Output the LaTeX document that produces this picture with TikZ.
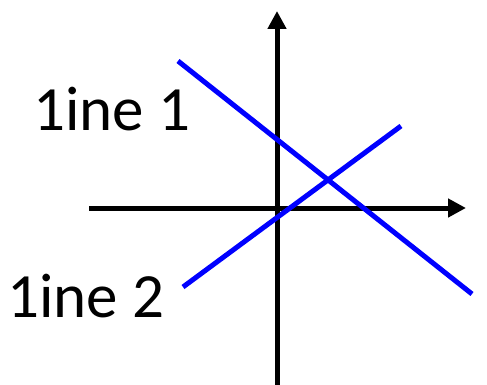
\documentclass[tikz,border=0pt]{standalone}
\usepackage{fontspec}
\setmainfont{Carlito}
\usetikzlibrary{arrows.meta}
\begin{document}
\begin{tikzpicture}[x=1pt,y=-1pt,
  axis/.style={line width=5pt,-{Triangle[length=18pt,width=18pt]}},
  blueline/.style={line width=5pt,draw={rgb,255:red,0;green,0;blue,255}},
  lbl/.style={anchor=base west,inner sep=0pt,font=\fontsize{63}{70}\selectfont}]
\useasboundingbox (0,0) rectangle (487,385);
\coordinate (xl) at (89,208);
\coordinate (xr) at (466,208);
\coordinate (yb) at (277,386);
\coordinate (yt) at (277,11);
\coordinate (a1) at (178,61);
\coordinate (a2) at (472,294);
\coordinate (b1) at (183,287);
\coordinate (b2) at (401,126);
\draw[axis] (xl) -- (xr);
\draw[axis] (yb) -- (yt);
\draw[blueline] (a1) -- (a2);
\draw[blueline] (b1) -- (b2);
\node[lbl] (l1) at (33,131) {1ine 1};
\node[lbl] (l2) at (7,317) {1ine 2};
\end{tikzpicture}
\end{document}
